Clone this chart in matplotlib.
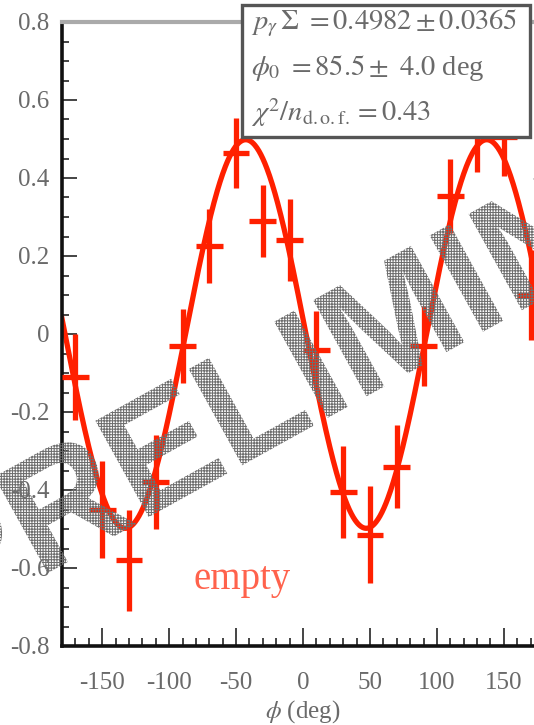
"""Beam asymmetry vs azimuthal angle with cos(2phi)-type fit."""

import numpy as np
import matplotlib.pyplot as plt
from matplotlib import transforms as mtransforms
from matplotlib.font_manager import FontProperties
from matplotlib.patches import PathPatch, Rectangle
from matplotlib.textpath import TextPath
from matplotlib.ticker import MultipleLocator, FixedLocator, FuncFormatter

# bin centres (deg), measured asymmetry and its error
phi_deg = [-170, -150, -130, -110, -90, -70, -50, -30, -10,
           10, 30, 50, 70, 90, 110, 130, 150, 170]
asym = [-0.11, -0.45, -0.58, -0.38, -0.03, 0.225, 0.465, 0.29, 0.24,
        -0.04, -0.405, -0.515, -0.34, -0.03, 0.355, 0.515, 0.505, 0.10]
asym_err = [0.11, 0.125, 0.13, 0.12, 0.095, 0.095, 0.09, 0.092, 0.105,
            0.10, 0.117, 0.124, 0.107, 0.103, 0.095, 0.10, 0.10, 0.115]
bin_half_width = 10

# fit results
pol_sigma = 0.4982
pol_sigma_err = 0.0365
phi0 = 85.5
phi0_err = 4.0
chi2_ndf = 0.43

y_ticks = [-0.8, -0.6, -0.4, -0.2, 0.0, 0.2, 0.4, 0.6, 0.8]
x_ticks = [-150, -100, -50, 0, 50, 100, 150]

RED = "#ff2000"
TEXT_GREY = "#6a6a6a"

plt.rcParams["font.family"] = ["Liberation Serif", "DejaVu Serif"]
plt.rcParams["mathtext.fontset"] = "stix"
plt.rcParams["axes.unicode_minus"] = False
plt.rcParams["hatch.linewidth"] = 0.75

W, H = 534, 725
fig = plt.figure(figsize=(W / 100, H / 100), dpi=100)
ax = fig.add_axes([62 / W, 1 - 646 / H, (544 - 62) / W, (646 - 22) / H])

# fit curve
phi_fine = np.linspace(-180, 180, 721)
fit = pol_sigma * np.cos(np.radians(2 * phi_fine + phi0))
ax.plot(phi_fine, fit, color=RED, lw=3.8, zorder=2)

# data points
ax.errorbar(phi_deg, asym, xerr=bin_half_width, yerr=asym_err, fmt="none",
            ecolor=RED, elinewidth=3.8, capsize=0, zorder=3)

ax.text(-82, -0.655, "empty", color=RED, fontsize=28, ha="left",
        va="baseline", alpha=0.7)

ax.set_xlim(-180, 180)
ax.set_ylim(-0.8, 0.8)
ax.xaxis.set_major_locator(FixedLocator(x_ticks))
ax.xaxis.set_minor_locator(MultipleLocator(10))
ax.yaxis.set_major_locator(FixedLocator(y_ticks))
ax.yaxis.set_minor_locator(MultipleLocator(0.05))
ax.yaxis.set_major_formatter(FuncFormatter(lambda v, _: f"{v:g}"))
ax.tick_params(axis="x", which="major", direction="in", length=13, width=1.4,
               color="#444444", labelsize=18, labelcolor=TEXT_GREY, pad=19)
ax.tick_params(axis="x", which="minor", direction="in", length=6, width=1.4,
               color="#444444")
ax.tick_params(axis="y", which="major", direction="in", length=11, width=1.4,
               color="#444444", labelsize=18, labelcolor=TEXT_GREY, pad=9)
ax.tick_params(axis="y", which="minor", direction="in", length=5, width=1.4,
               color="#444444")
ax.tick_params(top=False, right=False, which="both")

for side in ("left", "bottom"):
    ax.spines[side].set_linewidth(2.6)
    ax.spines[side].set_color("#111111")
ax.spines["top"].set_linewidth(3.0)
ax.spines["top"].set_color("#aaaaaa")
ax.spines["right"].set_visible(False)

ax.set_xlabel(r"$\phi$ (deg)", fontsize=18, color=TEXT_GREY, labelpad=3)

# fit summary box
box = Rectangle((242 / W, 1 - 137 / H), (530 - 242) / W, (137 - 5) / H,
                transform=fig.transFigure, facecolor="white",
                edgecolor="#555555", lw=2.4, zorder=5)
fig.add_artist(box)
lines = [
    rf"$p_{{\gamma}}\,\Sigma\ = {pol_sigma:.4f} \pm {pol_sigma_err:.4f}$",
    rf"$\phi_{{0}}\ = {phi0:.1f} \pm\ {phi0_err:.1f}$ deg",
    rf"$\chi^{{2}}/n_{{\mathrm{{d.o.f.}}}} = {chi2_ndf:.2f}$",
]
for i, line in enumerate(lines):
    fig.text(251 / W, 1 - (23 + 45 * i) / H, line, fontsize=20.5,
             color=TEXT_GREY, ha="left", va="center", zorder=6)

# watermark across the whole canvas
tp = TextPath((0, 0), "PRELIMINARY", size=160,
              prop=FontProperties(family="Liberation Sans", weight="bold"))
wm_tf = mtransforms.Affine2D().rotate_deg(29).translate(-55, 95)
wm = PathPatch(tp, transform=wm_tf, facecolor="none", edgecolor="#6e6e6e",
               hatch="++++++", lw=0, zorder=10)
fig.add_artist(wm)

fig.savefig("out.png", dpi=100)
